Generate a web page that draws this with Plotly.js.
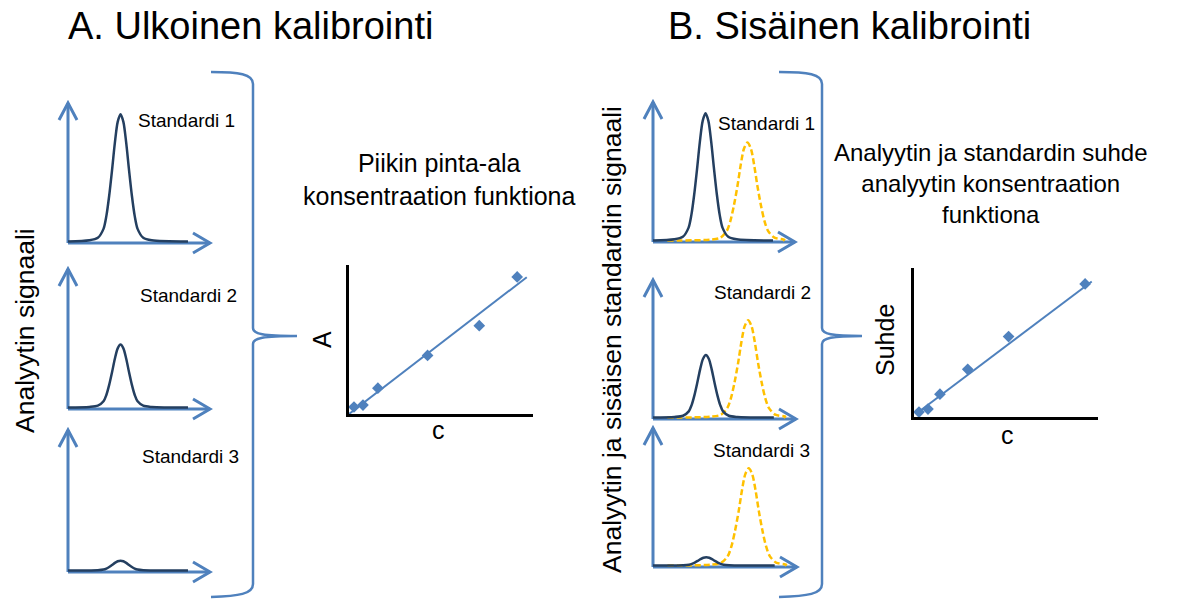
<!DOCTYPE html>
<html>
<head>
<meta charset="utf-8">
<script src="https://cdn.plot.ly/plotly-3.0.1.min.js"></script>
<style>
  html, body { margin: 0; padding: 0; background: #ffffff; }
  #chart { width: 1185px; height: 601px; }
</style>
</head>
<body>
<div id="chart"></div>
<script>
// ---- chromatogram data -------------------------------------------------
// peak profile: retention-time offsets from the apex and relative height
const peakOffsets = [-2.2, -1.6, -1.2, -1.0, -0.8, -0.6, -0.4, -0.2, 0, 0.2, 0.4, 0.6, 0.8, 1.0, 1.2, 1.6, 2.2];
const istdOffsets = [-2.6, -1.9, -1.45, -1.2, -0.95, -0.7, -0.47, -0.24, 0, 0.24, 0.47, 0.7, 0.95, 1.2, 1.45, 1.9, 2.6];
const peakShape   = [0.01, 0.03, 0.1, 0.2, 0.36, 0.56, 0.775, 0.94, 1, 0.94, 0.775, 0.56, 0.36, 0.2, 0.1, 0.03, 0.01];

const baselineLevel = 0.1;
const runStart = 0;
const runEnd = 8.45;
const istdStart = 1.0;
const istdEnd = 9.15;
const analyteTime = 3.7;
const istdTime = 6.65;

const standardLabels   = ['Standardi 1', 'Standardi 2', 'Standardi 3'];
const externalHeights  = [9.1, 4.5, 0.7];   // analyte, external calibration
const internalHeights  = [9.1, 4.5, 0.6];   // analyte, internal calibration
const istdHeights      = [7.0, 7.0, 7.0];   // internal standard

// ---- calibration data --------------------------------------------------
const extConc  = [0.27, 0.76, 1.57, 4.27, 7.08, 9.14];
const extArea  = [0.47, 0.60, 1.73, 3.93, 5.93, 9.20];
const extFitC  = [0, 9.66];
const extFitA  = [0, 9.18];

const intConc  = [0.27, 0.76, 1.41, 2.92, 5.14, 9.30];
const intRatio = [0.33, 0.53, 1.53, 3.20, 5.40, 8.93];
const intFitC  = [0.1, 9.66];
const intFitR  = [0.2, 9.09];

// ---- page geometry -----------------------------------------------------
const W = 1185, H = 601;
const BLUE = '#4F81BD';
const NAVY = '#243F60';
const GOLD = '#FFC000';
const FONT = 'Liberation Sans, Arial, sans-serif';

const px = x => x / W;
const py = y => 1 - y / H;

// origin and arrow tips of each small chromatogram frame (pixels)
const framesA = [
  { ox: 68, oy: 243, tx: 210, ty: 103, lx: 186, ly: 120 },
  { ox: 68, oy: 409, tx: 210, ty: 269, lx: 188, ly: 295 },
  { ox: 68, oy: 572, tx: 210, ty: 430, lx: 190, ly: 456 }
];
const framesB = [
  { ox: 653, oy: 242, tx: 795, ty: 102, lx: 766, ly: 123 },
  { ox: 653, oy: 419, tx: 796, ty: 280, lx: 762, ly: 292 },
  { ox: 653, oy: 567, tx: 797, ty: 428, lx: 761, ly: 450 }
];
const R0 = -1, R1 = 10.5;   // frame axis range, arrow tip at 10

const layout = {
  width: W, height: H,
  margin: { l: 0, r: 0, t: 0, b: 0, pad: 0 },
  paper_bgcolor: '#ffffff',
  plot_bgcolor: 'rgba(0,0,0,0)',
  showlegend: false,
  font: { family: FONT, color: '#000000' },
  shapes: [],
  annotations: []
};
const traces = [];

let axisIndex = 0;
function hiddenAxis(domain, range) {
  return { domain, range, visible: false, fixedrange: true, showgrid: false, zeroline: false };
}

function addFrame(frame, analyteHeight, istdHeight, label) {
  axisIndex += 1;
  const n = axisIndex === 1 ? '' : String(axisIndex);
  const xa = 'x' + n, ya = 'y' + n;
  const sx = (frame.tx - frame.ox) / 10;
  const sy = (frame.oy - frame.ty) / 10;
  layout['xaxis' + n] = Object.assign(hiddenAxis(
    [px(frame.ox + R0 * sx), px(frame.ox + R1 * sx)], [R0, R1]), { anchor: ya });
  layout['yaxis' + n] = Object.assign(hiddenAxis(
    [py(frame.oy - R0 * sy), py(frame.oy - R1 * sy)], [R0, R1]), { anchor: xa });

  // axis shafts
  layout.shapes.push(
    { type: 'line', xref: xa, yref: ya, x0: 0, y0: 0, x1: 10, y1: 0, layer: 'below',
      line: { color: BLUE, width: 3 } },
    { type: 'line', xref: xa, yref: ya, x0: 0, y0: 0, x1: 0, y1: 10, layer: 'below',
      line: { color: BLUE, width: 3 } },
    // arrow heads
    { type: 'path', xref: xa, yref: ya, xsizemode: 'pixel', ysizemode: 'pixel',
      xanchor: 10, yanchor: 0, path: 'M-17,10L0,0L-17,-10', layer: 'below',
      line: { color: BLUE, width: 3 } },
    { type: 'path', xref: xa, yref: ya, xsizemode: 'pixel', ysizemode: 'pixel',
      xanchor: 0, yanchor: 10, path: 'M-9,-17L0,0L9,-17', layer: 'below',
      line: { color: BLUE, width: 3 } }
  );

  if (istdHeight !== null) {
    const ix = [istdStart], iy = [baselineLevel];
    istdOffsets.forEach((d, i) => { ix.push(istdTime + d); iy.push(baselineLevel + istdHeight * peakShape[i]); });
    ix.push(istdEnd); iy.push(baselineLevel);
    traces.push({ type: 'scatter', mode: 'lines', x: ix, y: iy, xaxis: xa, yaxis: ya,
      line: { color: GOLD, width: 2.5, dash: '6px,3px', shape: 'spline', smoothing: 0.8 },
      hoverinfo: 'skip', cliponaxis: false });
  }

  const ax = [runStart], ay = [baselineLevel];
  peakOffsets.forEach((d, i) => { ax.push(analyteTime + d); ay.push(baselineLevel + analyteHeight * peakShape[i]); });
  ax.push(runEnd); ay.push(baselineLevel);
  traces.push({ type: 'scatter', mode: 'lines', x: ax, y: ay, xaxis: xa, yaxis: ya,
    line: { color: NAVY, width: 2.5, shape: 'spline', smoothing: 0.8 },
    hoverinfo: 'skip', cliponaxis: false });

  layout.annotations.push({ xref: 'paper', yref: 'paper', x: px(frame.lx), y: py(frame.ly),
    xanchor: 'center', yanchor: 'middle', showarrow: false, text: label,
    font: { family: FONT, size: 19, color: '#000000' } });
}

framesA.forEach((f, i) => addFrame(f, externalHeights[i], null, standardLabels[i]));
framesB.forEach((f, i) => addFrame(f, internalHeights[i], istdHeights[i], standardLabels[i]));

function addCalibration(box, xs, ys, fitX, fitY, yLabel, yLabelPos, xLabelPos) {
  axisIndex += 1;
  const n = String(axisIndex);
  const xa = 'x' + n, ya = 'y' + n;
  const common = { showline: true, linecolor: '#000000', linewidth: 3, showticklabels: false,
    ticks: '', showgrid: false, zeroline: false, fixedrange: true, range: [0, 10] };
  layout['xaxis' + n] = Object.assign({ domain: [px(box.x0), px(box.x1)], anchor: ya }, common);
  layout['yaxis' + n] = Object.assign({ domain: [py(box.y1), py(box.y0)], anchor: xa }, common);
  traces.push({ type: 'scatter', mode: 'lines', x: fitX, y: fitY, xaxis: xa, yaxis: ya,
    line: { color: BLUE, width: 2 }, hoverinfo: 'skip', cliponaxis: false });
  traces.push({ type: 'scatter', mode: 'markers', x: xs, y: ys, xaxis: xa, yaxis: ya,
    marker: { symbol: 'diamond', size: 9, color: BLUE }, hoverinfo: 'skip', cliponaxis: false });
  layout.annotations.push(
    { xref: 'paper', yref: 'paper', x: px(yLabelPos[0]), y: py(yLabelPos[1]), textangle: -90,
      xanchor: 'center', yanchor: 'middle', showarrow: false, text: yLabel,
      font: { family: FONT, size: 25, color: '#000000' } },
    { xref: 'paper', yref: 'paper', x: px(xLabelPos[0]), y: py(xLabelPos[1]),
      xanchor: 'center', yanchor: 'middle', showarrow: false, text: 'c',
      font: { family: FONT, size: 25, color: '#000000' } }
  );
}

addCalibration({ x0: 349, x1: 533, y0: 265, y1: 414 }, extConc, extArea, extFitC, extFitA,
  'A', [322, 340], [438, 430]);
addCalibration({ x0: 914, x1: 1098, y0: 268, y1: 417 }, intConc, intRatio, intFitC, intFitR,
  'Suhde', [885, 340], [1007, 435]);

// curly braces joining the three chromatograms to the calibration plot
// (path in pixels from the page's top-left corner, y flipped for the shape anchor)
function braceShape(x, tipX, endX) {
  const top = 72, mid = 336, bottom = 596;
  const seg = [
    ['M', [endX, top]],
    ['C', [x - 14, top], [x, top + 2], [x, top + 12]],
    ['L', [x, mid - 8]],
    ['C', [x, mid - 2], [x + 10, mid], [tipX, mid]],
    ['C', [x + 10, mid], [x, mid + 2], [x, mid + 8]],
    ['L', [x, bottom - 12]],
    ['C', [x, bottom - 2], [x - 14, bottom], [endX, bottom + 1]]
  ];
  const path = seg.map(s => s[0] + s.slice(1).map(p => p[0] + ',' + (-p[1])).join(' ')).join(' ');
  return { type: 'path', xref: 'paper', yref: 'paper', xsizemode: 'pixel', ysizemode: 'pixel',
    xanchor: 0, yanchor: 1, path, line: { color: BLUE, width: 2.5 } };
}
layout.shapes.push(braceShape(253, 297, 211), braceShape(822, 862, 779));

// headings and explanatory text
const textItems = [
  { x: 250, y: 26, size: 38, text: 'A. Ulkoinen kalibrointi' },
  { x: 849, y: 26, size: 38, text: 'B. Sisäinen kalibrointi' },
  { x: 439, y: 180, size: 25, text: 'Piikin pinta-ala<br>konsentraation funktiona' },
  { x: 991, y: 184, size: 24, text: 'Analyytin ja standardin suhde<br>analyytin konsentraation<br>funktiona' },
  { x: 25, y: 331, size: 26.5, text: 'Analyytin signaali', angle: -90 },
  { x: 612, y: 340, size: 26.5, text: 'Analyytin ja sisäisen standardin signaali', angle: -90 }
];
textItems.forEach(t => layout.annotations.push({
  xref: 'paper', yref: 'paper', x: px(t.x), y: py(t.y), xanchor: 'center', yanchor: 'middle',
  showarrow: false, text: t.text, textangle: t.angle || 0, align: 'center',
  font: { family: FONT, size: t.size, color: '#000000' }
}));

Plotly.newPlot('chart', traces, layout, { staticPlot: true, displayModeBar: false });
</script>
</body>
</html>
